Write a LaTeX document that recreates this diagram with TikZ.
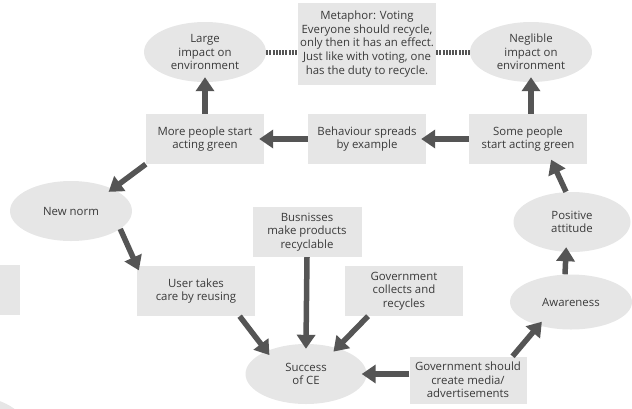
\documentclass[tikz,border=0pt]{standalone}
\usepackage{fontspec}
\setmainfont{Open Sans}
\usetikzlibrary{shapes.geometric, arrows.meta, positioning}

\definecolor{boxgray}{HTML}{E6E6E6}
\definecolor{textgray}{HTML}{3A3A3A}
\definecolor{arrowgray}{HTML}{555555}

\begin{document}
\begin{tikzpicture}[x=1pt, y=-1pt,
    % Step box style
    stepbox/.style={
        rectangle,
        fill=boxgray,
        text=textgray,
        minimum width=118pt,
        minimum height=50pt,
        inner sep=1pt,
        align=center,
        font=\fontsize{11.4}{13.7}\selectfont
    },
    % Outcome ellipse style
    outcome/.style={
        ellipse,
        fill=boxgray,
        text=textgray,
        minimum width=122pt,
        minimum height=60pt,
        inner sep=0pt,
        align=center,
        font=\fontsize{11.4}{13.7}\selectfont
    },
    arrow/.style={
        -{Triangle[width=18pt, length=14pt]},
        line width=5.5pt,
        arrowgray,
        shorten >=-5pt
    },
    dotline/.style={
        line width=5pt,
        arrowgray,
        dash pattern=on 2pt off 1.2pt
    }
]
\clip (0,0) rectangle (632,408);

% === Top row ===
\node[outcome] (large) at (205,52) {Large\\impact on\\environment};
\node[stepbox, minimum width=138pt, minimum height=82pt] (metaphor) at (367,44) {Metaphor: Voting\\Everyone should recycle,\\only then it has an effect.\\Just like with voting, one\\has the duty to recycle.};
\node[outcome] (neglible) at (531,52) {Neglible\\impact on\\environment};

% === Spreading row ===
\node[stepbox] (morepeople) at (205,139) {More people start\\acting green};
\node[stepbox] (behaviour) at (367,139) {Behaviour spreads\\by example};
\node[stepbox] (somepeople) at (528,139) {Some people\\start acting green};

% === Middle ===
\node[outcome] (newnorm) at (71,211) {New norm};
\node[outcome, minimum width=117pt] (positive) at (572,222) {Positive\\attitude};
\node[stepbox, minimum width=109pt] (business) at (307,232) {Busnisses\\make products\\recyclable};
\node[stepbox] (user) at (196,291) {User takes\\care by reusing};
\node[stepbox] (govcollects) at (404,291) {Government\\collects and\\recycles};
\node[outcome, minimum height=55pt] (awareness) at (571,302) {Awareness};

% === Bottom ===
\node[outcome, minimum width=121pt] (success) at (306,374) {Success\\of CE};
\node[stepbox, minimum width=117pt, minimum height=47pt] (govmedia) at (468,380) {Government should\\create media/\\advertisements};

% === Cut off at the edge ===
\node[stepbox] (leftbox) at (-39,290) {};
\node[outcome] (cornerell) at (-37,425) {};

% === Metaphor links ===
\draw[dotline] (large.east) -- (large.east -| metaphor.west);
\draw[dotline] (metaphor.east |- neglible.west) -- (neglible.west);

% === Arrows ===
\draw[arrow] (somepeople.west) -- (behaviour.east);
\draw[arrow] (behaviour.west) -- (morepeople.east);
\draw[arrow] (morepeople.north) -- (large.south);
\draw[arrow] (neglible.south |- somepeople.north) -- (neglible.south);
\draw[arrow] (morepeople.south west) -- (newnorm.28);
\draw[arrow] (newnorm.-20) -- (user.north west);
\draw[arrow] (user.-30) -- (success.150);
\draw[arrow] (business.south) -- (success.north);
\draw[arrow] (govcollects.215) -- (success.40);
\draw[arrow] (success.east -| govmedia.west) -- (success.east);
\draw[arrow] (govmedia.28) -- (awareness.216);
\draw[arrow] ([xshift=-6pt]awareness.north) -- ([xshift=-6pt]positive.south);
\draw[arrow] ([xshift=-6pt]positive.north) -- (somepeople.-45);

\end{tikzpicture}
\end{document}
